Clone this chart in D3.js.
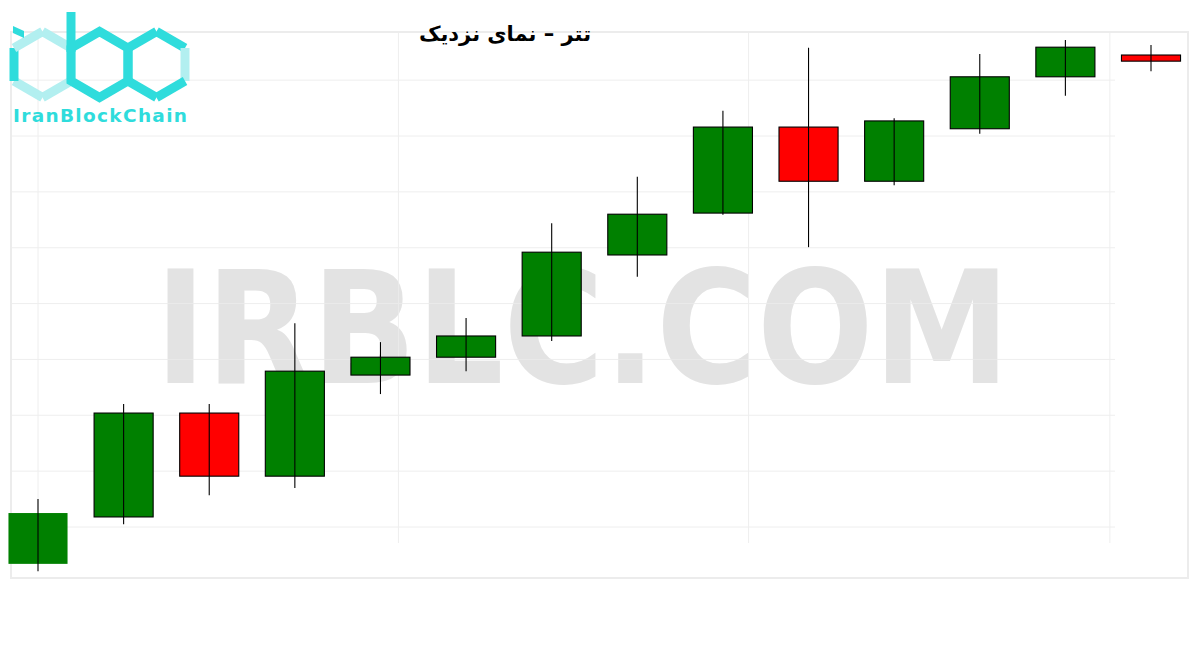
<!DOCTYPE html>
<html>
<head>
<meta charset="utf-8">
<script src="https://cdn.jsdelivr.net/npm/d3@7"></script>
<style>
html,body{margin:0;padding:0;background:#fff;}
svg{display:block;}
</style>
</head>
<body>
<svg id="chart" width="1200" height="650"></svg>
<script>
// ---- data ----
const candleIndex = [0,1,2,3,4,5,6,7,8,9,10,11,12,13];
const openVals  = [23434,23518,23704,23591,23772,23804,23842,23987,24062,24216,24119,24213,24306,24345];
const closeVals = [23525,23704,23591,23779,23804,23842,23992,24060,24216,24119,24227,24306,24359,24334];
const highVals  = [23550,23720,23720,23865,23831,23874,24044,24127,24245,24358,24232,24347,24372,24363];
const lowVals   = [23421,23505,23557,23570,23738,23779,23833,23948,24059,24001,24112,24204,24272,24316];
const yTicks = [23500,23600,23700,23800,23900,24000,24100,24200,24300];
const xGridTicks = [0,4.21,8.3,12.52];
const titleText = "تتر – نمای نزدیک";
const watermarkText = "IRBLC.COM";
const logoText = "IranBlockChain";

const candles = candleIndex.map((i,k)=>({i, o:openVals[k], c:closeVals[k], h:highVals[k], l:lowVals[k]}));

const svg = d3.select("#chart");
const x = d3.scaleLinear().domain([0,13]).range([38,1151]);
const y = d3.scaleLinear().domain([23408.7,24386.2]).range([578,32]);

// watermark
svg.append("text")
  .attr("x",155).attr("y",383)
  .attr("textLength",855).attr("lengthAdjust","spacingAndGlyphs")
  .attr("font-family","'DejaVu Sans', sans-serif").attr("font-weight","bold")
  .attr("font-size",156).attr("fill","#e3e3e3")
  .text(watermarkText);

// grid
const grid = svg.append("g").attr("stroke","#ececec").attr("stroke-width",1).attr("opacity",0.85);
grid.selectAll("line.h").data(yTicks).join("line").attr("class","h")
  .attr("x1",11).attr("x2",1115).attr("y1",d=>y(d)).attr("y2",d=>y(d));
grid.selectAll("line.v").data(xGridTicks).join("line").attr("class","v")
  .attr("x1",d=>x(d)).attr("x2",d=>x(d)).attr("y1",y.range()[1]).attr("y2",543);
// outer frame
svg.append("rect").attr("x",11).attr("y",y.range()[1]).attr("width",1177).attr("height",y.range()[0]-y.range()[1])
  .attr("fill","none").attr("stroke","#ececec").attr("stroke-width",2);

// candles
const step = x(1)-x(0);
const bw = step*0.69;
const g = svg.append("g");
const cg = g.selectAll("g.c").data(candles).join("g").attr("class","c");
cg.append("rect")
  .attr("x",d=>x(d.i)-bw/2)
  .attr("y",d=>y(Math.max(d.o,d.c)))
  .attr("width",bw)
  .attr("height",d=>Math.max(1,Math.abs(y(d.o)-y(d.c))))
  .attr("fill",d=>d.c>=d.o?"#008000":"#ff0000")
  .attr("stroke",d=>d.i===0?"none":"#000")
  .attr("stroke-width",1.1);
cg.append("line")
  .attr("x1",d=>x(d.i)).attr("x2",d=>x(d.i))
  .attr("y1",d=>y(d.h)).attr("y2",d=>y(d.l))
  .attr("stroke","#000").attr("stroke-width",1.1);

// title
svg.append("text")
  .attr("x",505).attr("y",41)
  .attr("text-anchor","middle")
  .attr("direction","rtl")
  .attr("font-family","'DejaVu Sans', sans-serif").attr("font-weight","bold")
  .attr("font-size",21).attr("fill","#000")
  .text(titleText);

// logo
const dark = "#2fdcdc", light = "#b2eff0";
const r = 33, hw = 28.5, cy = 64.5;
function hexPts(cx){
  return [[cx,cy-r],[cx+hw,cy-r/2],[cx+hw,cy+r/2],[cx,cy+r],[cx-hw,cy+r/2],[cx-hw,cy-r/2]];
}
const logo = svg.append("g").attr("stroke-width",9).attr("stroke-linejoin","miter").attr("fill","none");
function seg(p,q,col){ logo.append("line").attr("x1",p[0]).attr("y1",p[1]).attr("x2",q[0]).attr("y2",q[1]).attr("stroke",col); }
// hex 1 (i): light, left side dark
let h1 = hexPts(42.5);
seg(h1[0],h1[1],light); seg(h1[1],h1[2],light); seg(h1[2],h1[3],light);
seg(h1[3],h1[4],light); seg(h1[4],h1[5],dark); seg(h1[5],h1[0],light);
// i dot
logo.append("path").attr("d","M13,26 L24,31 L24,38 L13,33 Z").attr("fill",dark).attr("stroke","none");
// hex 2 (b)
let h2 = hexPts(99.5);
logo.append("polygon").attr("points",h2.map(p=>p.join(",")).join(" ")).attr("stroke",dark);
logo.append("line").attr("x1",h2[5][0]).attr("x2",h2[5][0]).attr("y1",12).attr("y2",h2[5][1]+4).attr("stroke",dark);
// hex 3 (c)
let h3 = hexPts(156.5);
seg(h3[0],h3[1],dark); seg(h3[1],h3[2],light); seg(h3[2],h3[3],dark);
seg(h3[3],h3[4],dark); seg(h3[4],h3[5],dark); seg(h3[5],h3[0],dark);
svg.append("text")
  .attr("x",13).attr("y",122)
  .attr("textLength",174).attr("lengthAdjust","spacing")
  .attr("font-family","'DejaVu Sans', sans-serif").attr("font-weight","bold")
  .attr("font-size",18.5).attr("fill",dark)
  .text(logoText);
</script>
</body>
</html>
